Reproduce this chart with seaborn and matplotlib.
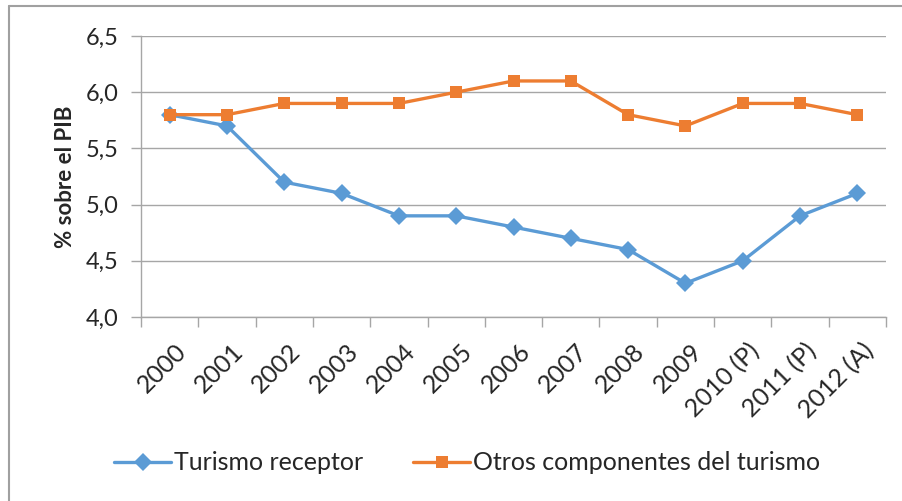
import numpy as np
import pandas as pd
import matplotlib
matplotlib.use("Agg")
import matplotlib.pyplot as plt
import seaborn as sns
from matplotlib.ticker import FuncFormatter, FixedLocator

# Datos
anios = ['2000', '2001', '2002', '2003', '2004', '2005', '2006', '2007',
         '2008', '2009', '2010 (P)', '2011 (P)', '2012 (A)']
turismo_receptor = [5.8, 5.7, 5.2, 5.1, 4.9, 4.9, 4.8, 4.7, 4.6, 4.3, 4.5, 4.9, 5.1]
otros_componentes = [5.8, 5.8, 5.9, 5.9, 5.9, 6.0, 6.1, 6.1, 5.8, 5.7, 5.9, 5.9, 5.8]

df = pd.DataFrame({
    'pos': list(range(len(anios))) * 2,
    'valor': turismo_receptor + otros_componentes,
    'serie': ['Turismo receptor'] * len(anios) + ['Otros componentes del turismo'] * len(anios),
})

sns.set_style('white')
plt.rcParams['font.family'] = ['Lato', 'DejaVu Sans']

fig = plt.figure(figsize=(9.03, 5.01), dpi=100)
ax = fig.add_axes([141 / 903, 1 - 317 / 501, 745 / 903, 281 / 501])

colores = {'Turismo receptor': '#5B9BD5', 'Otros componentes del turismo': '#ED7D31'}
sns.lineplot(data=df, x='pos', y='valor', hue='serie', style='serie',
             palette=colores, markers={'Turismo receptor': 'D', 'Otros componentes del turismo': 's'},
             dashes=False, linewidth=2.4, markersize=9, markeredgewidth=0, ax=ax)

ax.set_xlim(-0.5, len(anios) - 0.5)
ax.set_ylim(4.0, 6.5)
ax.set_yticks(np.arange(4.0, 6.51, 0.5))
ax.yaxis.set_major_formatter(FuncFormatter(lambda v, p: f'{v:.1f}'.replace('.', ',')))
ax.grid(axis='y', color='#A6A6A6', linewidth=1)
ax.set_axisbelow(True)

ax.set_xticks(np.arange(len(anios)) + 0.08)
ax.set_xticklabels(anios, rotation=45, ha='right', rotation_mode='anchor')
ax.xaxis.set_minor_locator(FixedLocator(np.arange(-0.5, len(anios), 1.0)))
ax.tick_params(axis='x', which='major', length=0, pad=16, labelsize=18)
ax.tick_params(axis='x', which='minor', length=7, color='#A6A6A6', width=1, direction='out', bottom=True)
ax.tick_params(axis='y', length=7, color='#A6A6A6', width=1, direction='out', left=True, labelsize=17, pad=9)

for s in ['top', 'right']:
    ax.spines[s].set_visible(False)
for s in ['left', 'bottom']:
    ax.spines[s].set_color('#A6A6A6')
    ax.spines[s].set_linewidth(1)

ax.set_xlabel('')
ax.set_ylabel('% sobre el PIB', fontsize=16, fontweight='bold', labelpad=7)

handles, labels = ax.get_legend_handles_labels()
ax.legend(handles, labels, loc='center', bbox_to_anchor=(467 / 903, 1 - 463 / 501),
          bbox_transform=fig.transFigure, ncol=2, frameon=False, fontsize=18,
          handlelength=2.3, handletextpad=0.1, columnspacing=2.0)

# Marco del gráfico (solo borde izquierdo y superior visibles)
fig.add_artist(plt.Line2D([9 / 903, 9 / 903], [0, 1 - 6 / 501], color='#A0A0A0', linewidth=1.5,
                          transform=fig.transFigure))
fig.add_artist(plt.Line2D([9 / 903, 1], [1 - 6 / 501, 1 - 6 / 501], color='#A0A0A0', linewidth=1.5,
                          transform=fig.transFigure))

fig.savefig('out.png', dpi=100)
